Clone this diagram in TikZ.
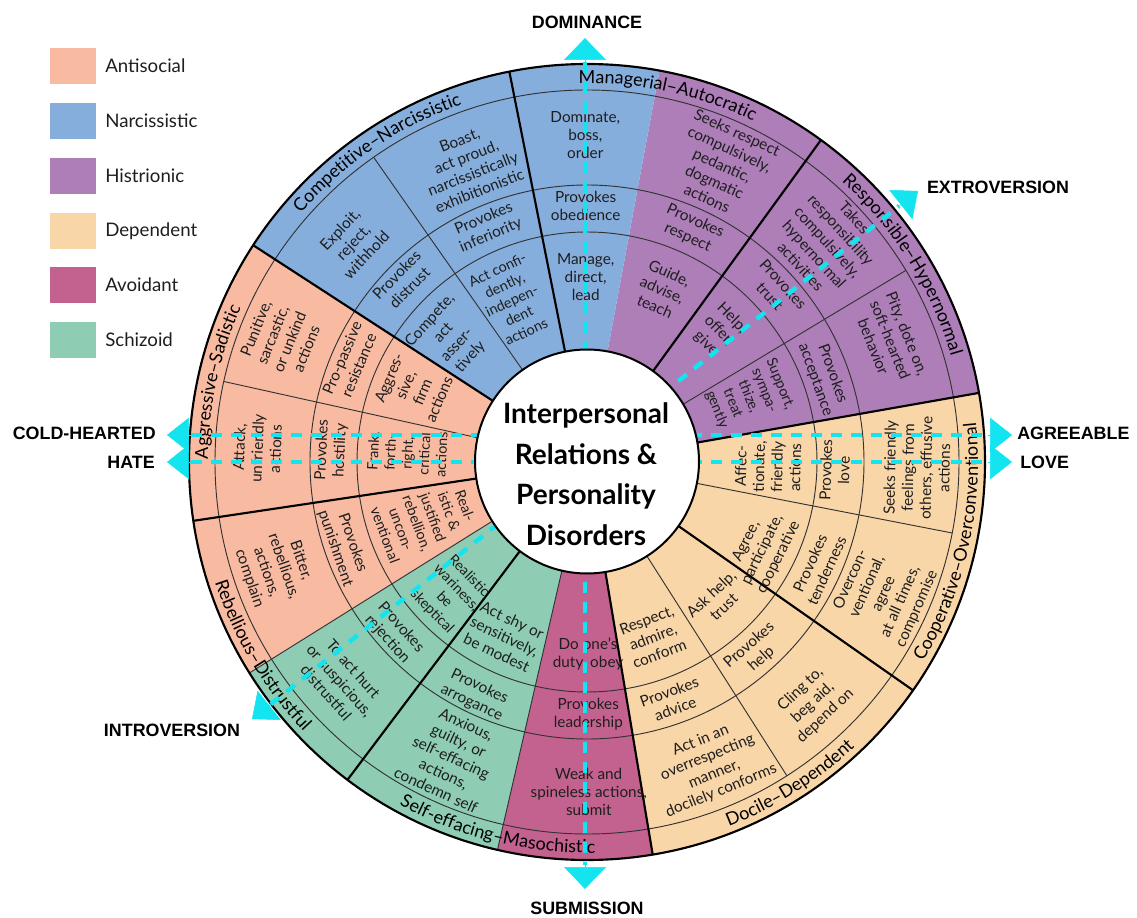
\documentclass[tikz,border=0pt]{standalone}
\usepackage{fontspec}
\setmainfont{Lato}
\newfontfamily\axisfont{Liberation Sans}
\usetikzlibrary{arrows.meta,decorations.text}
\definecolor{cSal}{HTML}{F8BBA2}
\definecolor{cBlu}{HTML}{86AEDC}
\definecolor{cPur}{HTML}{AD7EB8}
\definecolor{cBei}{HTML}{F9D6A8}
\definecolor{cMag}{HTML}{C4628F}
\definecolor{cGrn}{HTML}{8ECDB4}
\definecolor{cCya}{RGB}{20,228,240}
\definecolor{cInk}{HTML}{1E1E1E}
\newcommand\sectorfill[3]{\fill[#3] (0,0) -- (#1:398) arc[start angle=#1,end angle=#2,radius=398] -- cycle;}
\newcommand\octfont{\fontsize{13.5}{15}\selectfont}
\begin{document}
\begin{tikzpicture}[x=0.75pt,y=0.75pt,
  wcell/.style={align=center, inner sep=0pt, text=cInk, font=\fontsize{11.5}{13.6}\selectfont},
  wsmall/.style={font=\fontsize{10.8}{12.8}\selectfont},
  thinline/.style={draw=black!80, line width=0.7pt},
  thickline/.style={draw=black, line width=1.6pt},
  axisline/.style={draw=cCya, line width=3.3pt, dash pattern=on 8pt off 7pt},
  axtip/.style={draw=cCya, line width=0.4pt},
  axislabel/.style={font=\axisfont\bfseries\fontsize{13.4}{15}\selectfont, inner sep=0pt, text=black},
  legbox/.style={minimum width=34.5pt, minimum height=27pt, inner sep=0pt, draw=none},
  legtext/.style={anchor=west, inner sep=0pt, font=\fontsize{14}{16}\selectfont, text=cInk}
]
\useasboundingbox (-587,462) rectangle (550,-455);

% ---- sector fills
\sectorfill{279.5}{370}{cBei}
\sectorfill{10}{79.5}{cPur}
\sectorfill{79.5}{147}{cBlu}
\sectorfill{147}{212}{cSal}
\sectorfill{212}{257}{cGrn}
\sectorfill{257}{279.5}{cMag}

% ---- rings
\draw[thinline] (0,0) circle[radius=372];
\draw[thinline] (0,0) circle[radius=277];
\draw[thinline] (0,0) circle[radius=230];
\foreach \a in {-57.5,-11,31,125,167.5} \draw[thinline] (\a:105) -- (\a:372);
\foreach \a in {212,257} \draw[thinline] (\a:105) -- (\a:398);
\foreach \a in {-80.5,-35,10,54,101.25,147,188.5,233} \draw[thickline] (\a:105) -- (\a:398);
\draw[line width=1.6pt] (0,0) circle[radius=398];

% ---- octant labels
\path[decorate,decoration={text along path,text align=center,text={|\octfont|Managerial–Autocratic}}] (101.25:379) arc[start angle=101.25,end angle=54,radius=379];
\path[decorate,decoration={text along path,text align=center,text={|\octfont|Responsible–Hypernormal}}] (54:379) arc[start angle=54,end angle=10,radius=379];
\path[decorate,decoration={text along path,text align=center,text={|\octfont|Competitive–Narcissistic}}] (147:379) arc[start angle=147,end angle=101.25,radius=379];
\path[decorate,decoration={text along path,text align=center,text={|\octfont|Aggressive–Sadistic}}] (188.5:379) arc[start angle=188.5,end angle=147,radius=379];
\path[decorate,decoration={text along path,text align=center,text={|\octfont|Cooperative–Overconventional}}] (-35:391) arc[start angle=-35,end angle=10,radius=391];
\path[decorate,decoration={text along path,text align=center,text={|\octfont|Docile–Dependent}}] (-80.5:391) arc[start angle=-80.5,end angle=-35,radius=391];
\path[decorate,decoration={text along path,text align=center,text={|\octfont|Self-effacing–Masochistic}}] (233:391) arc[start angle=233,end angle=279.5,radius=391];
\path[decorate,decoration={text along path,text align=center,text={|\octfont|Rebellious–Distrustful}}] (188.5:391) arc[start angle=188.5,end angle=233,radius=391];

% ---- cells: Docile-Dependent
\node[wcell, rotate=43.2] (s1b) at (-46.8:330) {Cling to,\\beg aid,\\depend on};
\node[wcell, rotate=41.5] (s1p) at (-48.5:254) {Provokes\\help};
\node[wcell, rotate=43.3] (s1i) at (-46.7:190) {Ask help,\\trust};
\node[wcell, rotate=22.2] (s16b) at (-67.8:328) {Act in an\\overrespecting\\manner,\\docilely conforms};
\node[wcell, rotate=19.7] (s16p) at (-70.3:253) {Provokes\\advice};
\node[wcell, rotate=20.7] (s16i) at (-69.3:187) {Respect,\\admire,\\conform};
% Cooperative-Overconventional
\node[wcell, rotate=66] (s2b) at (-24:325) {Overcon-\\ventional,\\agree\\at all times,\\compromise};
\node[wcell, rotate=65.6] (s2p) at (-24.4:254) {Provokes\\tenderness};
\node[wcell, rotate=63.5] (s2i) at (-26.5:196) {Agree,\\participate,\\cooperative};
\node[wcell, rotate=89] (s3b) at (-1:330) {Seeks friendly\\feelings from\\others, effusive\\actions};
\node[wcell, rotate=88.1] (s3p) at (-1.9:248) {Provokes\\love};
\node[wcell, rotate=88.5] (s3i) at (-1.5:181) {Affec-\\tionate,\\friendly\\actions};
% Responsible-Hypernormal
\node[wcell, rotate=-68.1] (s4b) at (21.9:327) {Pity, dote on,\\soft-hearted\\behavior};
\node[wcell, rotate=-70.2] (s4p) at (19.8:252) {Provokes\\acceptance};
\node[wcell, wsmall, rotate=-68] (s4i) at (22:174) {Support,\\sympa-\\thize,\\treat\\gently};
\node[wcell, rotate=-47.6] (s5b) at (42.4:326) {Takes\\responsibility\\compulsively,\\hypernormal\\activities};
\node[wcell, rotate=-47.8] (s5p) at (42.2:256) {Provokes\\trust};
\node[wcell, rotate=-45.2] (s5i) at (44.8:186) {Help,\\offer,\\give};
% Managerial-Autocratic
\node[wcell, rotate=-24.5] (s6b) at (65.5:326) {Seeks respect\\compulsively,\\pedantic,\\dogmatic\\actions};
\node[wcell, rotate=-24.2] (s6p) at (65.8:255) {Provokes\\respect};
\node[wcell, rotate=-23.6] (s6i) at (66.4:188) {Guide,\\advise,\\teach};
\node[wcell] (s7b) at (90.3:327) {Dominate,\\boss,\\order};
\node[wcell] (s7p) at (90.3:256) {Provokes\\obedience};
\node[wcell] (s7i) at (90.4:185) {Manage,\\direct,\\lead};
% Competitive-Narcissistic
\node[wcell, rotate=21.6] (s8b) at (111.6:319) {Boast,\\act proud,\\narcissistically\\exhibitionistic};
\node[wcell, rotate=23] (s8p) at (113:255) {Provokes\\inferiority};
\node[wcell, wsmall, rotate=25] (s8i) at (115:178) {Act confi-\\dently,\\indepen-\\dent\\actions};
\node[wcell, rotate=46.8] (s9b) at (136.8:321) {Exploit,\\reject,\\withhold};
\node[wcell, rotate=45.5] (s9p) at (135.5:258) {Provokes\\distrust};
\node[wcell, rotate=48] (s9i) at (138:184) {Compete,\\act\\asser-\\tively};
% Aggressive-Sadistic
\node[wcell, rotate=68] (s10b) at (158:330) {Punitive,\\sarcastic,\\or unkind\\actions};
\node[wcell, rotate=67] (s10p) at (157:257) {Pro-passive\\resistance};
\node[wcell, rotate=67] (s10i) at (157:188) {Aggres-\\sive,\\firm\\actions};
\node[wcell, rotate=87.6] (s11b) at (177.6:330) {Attack,\\unfriendly\\actions};
\node[wcell, rotate=87.4] (s11p) at (177.4:256) {Provokes\\hostility};
\node[wcell, wsmall, rotate=87.2] (s11i) at (177.2:180) {Frank,\\forth-\\right,\\critical\\actions};
% Rebellious-Distrustful
\node[wcell, rotate=289] (s12b) at (199:330) {Bitter,\\rebellious,\\actions,\\complain};
\node[wcell, rotate=289] (s12p) at (199:257) {Provokes\\punishment};
\node[wcell, wsmall, rotate=290.4] (s12i) at (199.8:172) {Real-\\istic \&\\justified\\rebellion,\\uncon-\\ventional};
\node[wcell, rotate=311.5] (s13b) at (221.5:330) {To act hurt\\or suspicious,\\distrustful};
\node[wcell, rotate=311.6] (s13p) at (221.6:258) {Provokes\\rejection};
\node[wcell, wsmall, rotate=314] (s13i) at (224:190) {Realistic\\wariness,\\be\\skeptical};
% Self-effacing-Masochistic
\node[wcell, rotate=335.3] (s14b) at (245.3:325) {Anxious,\\guilty, or\\self-effacing\\actions,\\condemn self};
\node[wcell, rotate=334.4] (s14p) at (244.4:258) {Provokes\\arrogance};
\node[wcell, rotate=334.7] (s14i) at (244.7:193) {Act shy or\\sensitively,\\be modest};
\node[wcell, rotate=0.3] (s15b) at (270.3:330) {Weak and\\spineless actions,\\submit};
\node[wcell, rotate=0.3] (s15p) at (270.3:252) {Provokes\\leadership};
\node[wcell, rotate=0.3] (s15i) at (270.3:192) {Do one's\\duty, obey};

% ---- axes
\coordinate (domTip) at (-2,424); \coordinate (domBase) at (-2,400);
\coordinate (subTip) at (-2,-427); \coordinate (subBase) at (-2,-403);
\coordinate (coldTip) at (-420,27); \coordinate (coldBase) at (-396,27);
\coordinate (hateTip) at (-420,0); \coordinate (hateBase) at (-396,0);
\coordinate (agrTip) at (425,27); \coordinate (agrBase) at (401,27);
\coordinate (loveTip) at (425,0); \coordinate (loveBase) at (401,0);
\coordinate (extTip) at (331,271); \coordinate (extBase) at (312.2,256.1);
\coordinate (intTip) at (-335,-257); \coordinate (intBase) at (-316.2,-242.1);
\draw[axisline] (domBase) -- (subBase);
\draw[axisline] (coldBase) -- (agrBase);
\draw[axisline] (hateBase) -- (loveBase);
\draw[axisline] (intBase) -- (extBase);
\draw[axtip, -{Triangle[width=31.5pt,length=16.5pt]}] (domBase) -- (domTip);
\draw[axtip, -{Triangle[width=31.5pt,length=16.5pt]}] (subBase) -- (subTip);
\draw[axtip, -{Triangle[width=26pt,length=16.5pt]}] (coldBase) -- (coldTip);
\draw[axtip, -{Triangle[width=26pt,length=16.5pt]}] (hateBase) -- (hateTip);
\draw[axtip, -{Triangle[width=26pt,length=16.5pt]}] (agrBase) -- (agrTip);
\draw[axtip, -{Triangle[width=26pt,length=16.5pt]}] (loveBase) -- (loveTip);
\draw[axtip, -{Triangle[width=28pt,length=16.5pt]}] (extBase) -- (extTip);
\draw[axtip, -{Triangle[width=28pt,length=16.5pt]}] (intBase) -- (intTip);

% ---- hub
\node[circle, draw=black, fill=white, line width=1.5pt, minimum size=168pt, inner sep=0pt] (hub) at (0,0.5) {};
\node[align=center, inner sep=0pt, text=black, font=\bfseries\fontsize{21}{30.4}\selectfont] (title) at (-1,-12) {Interpersonal\\Relations \&\\Personality\\Disorders};

% ---- axis labels
\node[axislabel] (lDom) at (0,440) {DOMINANCE};
\node[axislabel] (lSub) at (0,-446) {SUBMISSION};
\node[axislabel] (lExt) at (411,275) {EXTROVERSION};
\node[axislabel] (lInt) at (-415,-268) {INTROVERSION};
\node[axislabel, anchor=east] (lCold) at (-431,29) {COLD-HEARTED};
\node[axislabel, anchor=east] (lHate) at (-432,0) {HATE};
\node[axislabel, anchor=west] (lAgr) at (430,29) {AGREEABLE};
\node[axislabel, anchor=west] (lLove) at (433,0) {LOVE};

% ---- legend
\node[legbox, fill=cSal] (b1) at (-514,396) {};
\node[legtext] (t1) at (-482,396) {Antisocial};
\node[legbox, fill=cBlu] (b2) at (-514,341) {};
\node[legtext] (t2) at (-482,341) {Narcissistic};
\node[legbox, fill=cPur] (b3) at (-514,286) {};
\node[legtext] (t3) at (-482,286) {Histrionic};
\node[legbox, fill=cBei] (b4) at (-514,231) {};
\node[legtext] (t4) at (-482,231) {Dependent};
\node[legbox, fill=cMag] (b5) at (-514,177) {};
\node[legtext] (t5) at (-482,177) {Avoidant};
\node[legbox, fill=cGrn] (b6) at (-514,122) {};
\node[legtext] (t6) at (-482,122) {Schizoid};
\end{tikzpicture}
\end{document}
